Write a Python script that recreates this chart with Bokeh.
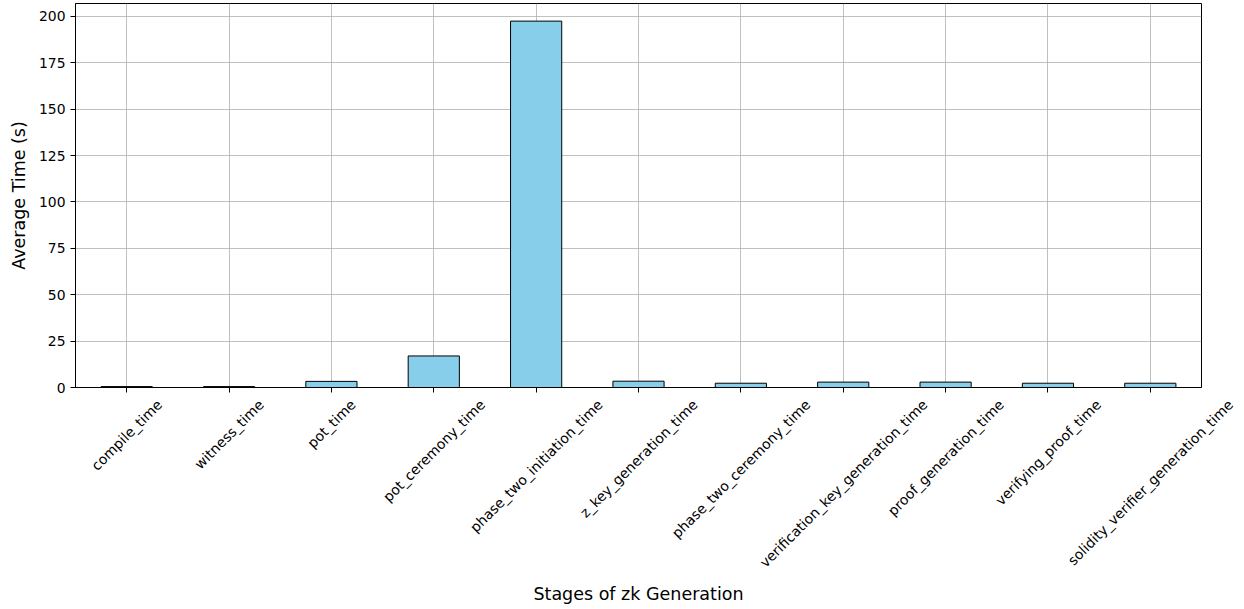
import math
from bokeh.plotting import figure
from bokeh.layouts import column
from bokeh.models import FactorRange, Range1d, SingleIntervalTicker, ColumnDataSource
from bokeh.core.properties import value
from bokeh.embed import file_html
from bokeh.resources import INLINE

stages = ["compile_time", "witness_time", "pot_time", "pot_ceremony_time",
          "phase_two_initiation_time", "z_key_generation_time",
          "phase_two_ceremony_time", "verification_key_generation_time",
          "proof_generation_time", "verifying_proof_time",
          "solidity_verifier_generation_time"]
avg_time = [0.5, 0.5, 3.3, 17.0, 197.5, 3.4, 2.3, 2.9, 2.9, 2.3, 2.3]
x_title = "Stages of zk Generation"
y_title = "Average Time (s)"

# ---- layout helpers (DejaVu Sans advance widths, units per 2048 em) ----
_W = dict(a=1255, b=1300, c=1126, d=1300, e=1260, f=721, g=1300, h=1298, i=569, j=569,
          k=1186, l=569, m=1995, n=1298, o=1253, p=1300, q=1300, r=842, s=1067, t=803,
          u=1298, v=1212, w=1675, x=1212, y=1212, z=1075, _=1024)
FS = 13.9
def text_w(s):
    return sum(_W.get(ch, 1200) for ch in s) * FS / 2048.0

W = 1244
FRAME_L, FRAME_R = 75, 1201
H1 = 395
H2 = 210
n = len(stages)
px_per_unit = (FRAME_R - FRAME_L) / n
PAD_PX = 40
pad_units = PAD_PX / px_per_unit

src = ColumnDataSource(dict(stage=stages, t=avg_time))
# categorical factor i sits at synthetic coordinate i + 0.5
lab_src = ColumnDataSource(dict(stage=stages,
                                pos=[i + 0.5 for i in range(n)],
                                dx=[(text_w(s) - 16.0) / (2 * math.sqrt(2)) for s in stages],
                                top=[1] * n))

# ---------------- main bar chart ----------------
p = figure(x_range=FactorRange(*stages, range_padding=0), y_range=Range1d(0, 207),
           width=W, height=H1, output_backend="svg", toolbar_location=None,
           min_border_left=FRAME_L, min_border_right=W - FRAME_R, min_border_top=3,
           min_border_bottom=8)
p.vbar(x="stage", top="t", width=0.5, source=src, fill_color="#87CEEB",
       line_color="black", line_width=1)

p.outline_line_color = "black"
p.outline_line_width = 1
p.outline_line_alpha = 1
for g in (p.xgrid, p.ygrid):
    g.grid_line_color = "#b0b0b0"
    g.grid_line_width = 0.8
    g.level = "underlay"

p.yaxis.ticker = SingleIntervalTicker(interval=25)
for ax in (p.xaxis, p.yaxis):
    ax.major_label_text_font = "DejaVu Sans"
    ax.major_label_text_font_size = "13.9px"
    ax.major_label_text_color = "black"
    ax.axis_label_text_font = "DejaVu Sans"
    ax.axis_label_text_font_size = "17.5px"
    ax.axis_label_text_font_style = "normal"
    ax.axis_label_text_color = "black"
    ax.major_tick_out = 5
    ax.major_tick_in = 0
    ax.minor_tick_out = 0
    ax.minor_tick_in = 0
    ax.axis_line_color = "black"
    ax.major_tick_line_color = "black"
p.xaxis.major_label_text_alpha = 0
p.xaxis.major_label_text_font_size = "1px"
p.xaxis.major_label_standoff = 0
p.yaxis.axis_label_standoff = 7
p.yaxis.axis_label = y_title

# ---------------- rotated category labels + x title ----------------
p2 = figure(x_range=Range1d(-pad_units, n + pad_units),
            y_range=Range1d(0, 1), width=W, height=H2, output_backend="svg",
            toolbar_location=None, x_axis_location=None, y_axis_location=None,
            min_border_left=FRAME_L - PAD_PX, min_border_right=W - FRAME_R - PAD_PX,
            min_border_top=0, min_border_bottom=0,
            title=x_title, title_location="below")
for fig in (p, p2):
    if "frame_align" in fig.properties():
        fig.frame_align = False
p2.outline_line_color = None
p2.grid.visible = False
p2.text(x="pos", y="top", text="stage", source=lab_src, x_offset="dx", y_offset=1,
        angle=math.pi / 4, text_align="right", text_baseline="top",
        text_font=value("DejaVu Sans"), text_font_size="13.9px", text_color="black")
p2.title.align = "center"
p2.title.text_font = "DejaVu Sans"
p2.title.text_font_size = "17.5px"
p2.title.text_font_style = "normal"
p2.title.text_color = "black"
p2.title.standoff = 4

layout = column(p, p2, spacing=0)
open("out.html", "w").write(file_html(layout, INLINE))
